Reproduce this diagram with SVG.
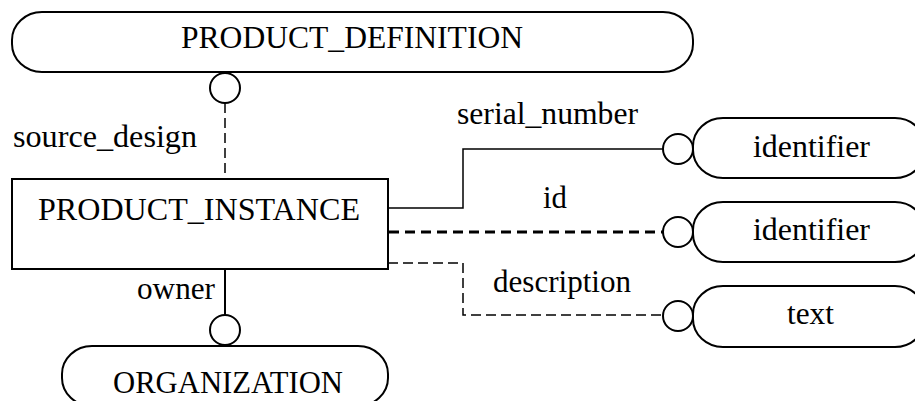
<svg xmlns="http://www.w3.org/2000/svg" width="915" height="401" viewBox="0 0 915 401">
<style>
  .box { fill: #fff; stroke: #000; stroke-width: 2; }
  .circ { fill: #fff; stroke: #000; stroke-width: 2; }
  .t { font-family: "Liberation Serif", "Times New Roman", serif; font-size: 31.5px; fill: #000; }
  .solid { fill: none; stroke: #000; stroke-width: 1.5; }
  .solidb { fill: none; stroke: #000; stroke-width: 2; }
  .dash { fill: none; stroke: #000; stroke-width: 1.5; stroke-dasharray: 10 5; }
  .dashb { fill: none; stroke: #000; stroke-width: 3; stroke-dasharray: 10 6; }
</style>
<rect width="915" height="401" fill="#fff"/>
<g id="connectors">
  <line class="dash" x1="225" y1="103" x2="225" y2="179"/>
  <line class="solidb" x1="225" y1="269" x2="225" y2="315"/>
  <polyline class="solid" points="388,208 463,208 463,149 663,149"/>
  <line class="dashb" x1="389" y1="232" x2="663" y2="232"/>
  <polyline class="dash" points="388,263 463,263 463,315 663,315"/>
  <circle class="circ" cx="225" cy="88" r="15"/>
  <circle class="circ" cx="225" cy="330" r="15"/>
  <circle class="circ" cx="678" cy="149" r="15"/>
  <circle class="circ" cx="678" cy="232" r="15"/>
  <circle class="circ" cx="678" cy="316" r="15"/>
  <text class="t" x="13" y="147" textLength="184" lengthAdjust="spacingAndGlyphs">source_design</text>
  <text class="t" x="137" y="299" textLength="78" lengthAdjust="spacingAndGlyphs">owner</text>
  <text class="t" x="457" y="124" textLength="181" lengthAdjust="spacingAndGlyphs">serial_number</text>
  <text class="t" x="543" y="208" textLength="24" lengthAdjust="spacingAndGlyphs">id</text>
  <text class="t" x="493" y="292" textLength="138" lengthAdjust="spacingAndGlyphs">description</text>
</g>
<g id="product_definition">
  <rect class="box" x="12" y="12" width="681" height="60" rx="30" ry="28"/>
  <text class="t" x="181" y="48" textLength="342" lengthAdjust="spacingAndGlyphs">PRODUCT_DEFINITION</text>
</g>
<g id="product_instance">
  <rect class="box" x="12" y="179" width="376" height="90"/>
  <text class="t" x="38" y="220" textLength="322" lengthAdjust="spacingAndGlyphs">PRODUCT_INSTANCE</text>
</g>
<g id="organization">
  <rect class="box" x="62" y="346" width="326" height="60" rx="30" ry="28"/>
  <text class="t" x="113" y="393" textLength="230" lengthAdjust="spacingAndGlyphs">ORGANIZATION</text>
</g>
<g id="identifier1">
  <rect class="box" x="693" y="118" width="232" height="60" rx="30" ry="28"/>
  <text class="t" x="753" y="157" textLength="117" lengthAdjust="spacingAndGlyphs">identifier</text>
</g>
<g id="identifier2">
  <rect class="box" x="693" y="202" width="232" height="60" rx="30" ry="28"/>
  <text class="t" x="753" y="240" textLength="117" lengthAdjust="spacingAndGlyphs">identifier</text>
</g>
<g id="text_type">
  <rect class="box" x="693" y="286" width="232" height="61" rx="30" ry="28"/>
  <text class="t" x="787" y="324" textLength="47" lengthAdjust="spacingAndGlyphs">text</text>
</g>
</svg>
